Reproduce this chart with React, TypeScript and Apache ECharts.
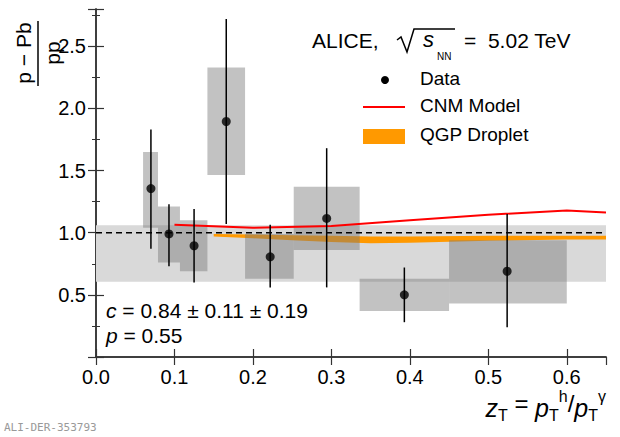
import { useEffect, useRef } from 'react';
import * as echarts from 'echarts';

const dataX = [0.07, 0.093, 0.125, 0.166, 0.222, 0.294, 0.393, 0.524];
const dataY = [1.355, 0.99, 0.895, 1.895, 0.806, 1.115, 0.5, 0.69];
const errLow = [0.87, 0.73, 0.6, 1.07, 0.56, 0.56, 0.28, 0.24];
const errHigh = [1.83, 1.23, 1.19, 2.72, 1.065, 1.68, 0.72, 1.15];
const boxX0 = [0.06, 0.079, 0.107, 0.142, 0.19, 0.252, 0.336, 0.45];
const boxX1 = [0.079, 0.107, 0.142, 0.19, 0.252, 0.336, 0.45, 0.6];
const boxY0 = [1.04, 0.76, 0.69, 1.465, 0.63, 0.86, 0.37, 0.43];
const boxY1 = [1.65, 1.21, 1.1, 2.33, 0.99, 1.37, 0.63, 0.94];
const normBand = [0, 0.65, 0.605, 1.06];

const cnmX = [0.1, 0.2, 0.3, 0.4, 0.5, 0.6, 0.65];
const cnmY = [1.065, 1.04, 1.055, 1.1, 1.145, 1.178, 1.162];

const qgpX = [0.15, 0.2, 0.25, 0.3, 0.35, 0.4, 0.5, 0.6, 0.65];
const qgpLow = [0.97, 0.955, 0.94, 0.925, 0.915, 0.92, 0.935, 0.945, 0.945];
const qgpHigh = [0.99, 0.985, 0.98, 0.975, 0.97, 0.97, 0.975, 0.975, 0.975];

const xTicks = [0, 0.1, 0.2, 0.3, 0.4, 0.5, 0.6];
const yTicks = [0.5, 1.0, 1.5, 2.0, 2.5];

const FONT = 'Liberation Sans, Arial, sans-serif';

const rectItem = (fill: string) => (params: any, api: any) => {
  const p0 = api.coord([api.value(0), api.value(3)]);
  const p1 = api.coord([api.value(1), api.value(2)]);
  return {
    type: 'rect',
    shape: { x: p0[0], y: p0[1], width: p1[0] - p0[0], height: p1[1] - p0[1] },
    style: { fill },
  };
};

export default function App() {
  const ref = useRef<HTMLDivElement>(null);

  useEffect(() => {
    document.body.style.margin = '0';
    if (!ref.current) return;
    const chart = echarts.init(ref.current, undefined, { renderer: 'svg' });

    const axisCommon = {
      axisLine: { show: true, lineStyle: { color: '#333', width: 1.5 } },
      axisTick: { show: true, inside: true, length: 8, lineStyle: { color: '#333', width: 1.2 } },
      splitLine: { show: false },
    };

    const option: echarts.EChartsOption = {
      animation: false,
      backgroundColor: '#fff',
      grid: { left: 96, right: 14, top: 9, bottom: 80 },
      xAxis: [
        {
          type: 'value', min: 0, max: 0.65, interval: 0.1, ...axisCommon,
          axisLabel: {
            fontFamily: FONT, fontSize: 20, color: '#000', margin: 10, showMaxLabel: false,
            formatter: (v: number) => (xTicks.some((t) => Math.abs(t - v) < 1e-6) ? v.toFixed(1) : ''),
          },
        },
        {
          type: 'value', position: 'top', min: 0, max: 0.65, interval: 0.1, ...axisCommon,
          axisLabel: { show: false },
        },
      ],
      yAxis: [
        {
          type: 'value', min: 0, max: 2.8, interval: 0.5, ...axisCommon,
          minorTick: { show: true, splitNumber: 2, length: 4, lineStyle: { color: '#333' } },
          axisLabel: {
            fontFamily: FONT, fontSize: 20, color: '#000', margin: 10, showMaxLabel: false,
            formatter: (v: number) => (yTicks.some((t) => Math.abs(t - v) < 1e-6) ? v.toFixed(1) : ''),
          },
        },
        {
          type: 'value', position: 'right', min: 0, max: 2.8, interval: 0.5, ...axisCommon,
          minorTick: { show: true, splitNumber: 2, length: 4, lineStyle: { color: '#333' } },
          axisLabel: { show: false },
        },
      ],
      series: [
        {
          type: 'custom', clip: true, renderItem: rectItem('#d9d9d9'),
          encode: { x: [0, 1], y: [2, 3] }, data: [normBand], z: 1,
        },
        {
          type: 'custom', clip: true, z: 2,
          encode: { x: 0, y: 1 }, data: [[qgpX[0], qgpHigh[0]]],
          renderItem: (params: any, api: any) => {
            const top = qgpX.map((x, i) => api.coord([x, qgpHigh[i]]));
            const bot = qgpX.map((x, i) => api.coord([x, qgpLow[i]])).reverse();
            return { type: 'polygon', shape: { points: top.concat(bot) }, style: { fill: '#ff9900' } };
          },
        },
        {
          type: 'custom', clip: true, renderItem: rectItem('rgba(120,120,120,0.45)'),
          encode: { x: [0, 1], y: [2, 3] },
          data: boxX0.map((x0, i) => [x0, boxX1[i], boxY0[i], boxY1[i]]), z: 3,
        },
        {
          type: 'line', data: cnmX.map((x, i) => [x, cnmY[i]]), symbol: 'none',
          lineStyle: { color: '#ff0000', width: 2 }, z: 4,
        },
        {
          type: 'line', data: [[0, 1], [0.65, 1]], symbol: 'none',
          lineStyle: { color: '#000', width: 1.5, type: [6, 4] }, z: 5,
        },
        {
          type: 'custom', z: 6,
          renderItem: (params: any, api: any) => {
            const a = api.coord([api.value(0), api.value(1)]);
            const b = api.coord([api.value(0), api.value(2)]);
            return {
              type: 'line', shape: { x1: a[0], y1: a[1], x2: b[0], y2: b[1] },
              style: { stroke: '#000', lineWidth: 1.5 },
            };
          },
          encode: { x: 0, y: [1, 2] },
          data: dataX.map((x, i) => [x, errLow[i], errHigh[i]]),
        },
        {
          type: 'scatter', data: dataX.map((x, i) => [x, dataY[i]]), symbolSize: 9,
          itemStyle: { color: '#000' }, z: 7,
        },
        {
          // rotated y-axis title (fraction)
          type: 'custom', clip: false, silent: true, z: 8,
          encode: { x: 0, y: 1 }, data: [[0, 0]],
          renderItem: () => ({
            type: 'group',
            children: [
              { type: 'text', x: 23, y: 53, rotation: Math.PI / 2, style: { text: 'p − Pb', font: `21px ${FONT}`, fill: '#000', align: 'center', verticalAlign: 'middle' } },
              { type: 'text', x: 52, y: 53, rotation: Math.PI / 2, style: { text: 'pp', font: `21px ${FONT}`, fill: '#000', align: 'center', verticalAlign: 'middle' } },
            ],
          }),
        },
      ],
      graphic: [
        { type: 'text', left: 312, top: 30, style: { text: 'ALICE,', font: `21px ${FONT}`, fill: '#000' } },
        { type: 'polyline', shape: { points: [[397, 40], [401, 37], [407, 52], [414, 29], [455, 29]] }, style: { stroke: '#000', lineWidth: 1.5, fill: 'none' } },
        { type: 'text', left: 423, top: 28, style: { text: 's', font: `italic 22px ${FONT}`, fill: '#000' } },
        { type: 'text', left: 437, top: 51, style: { text: 'NN', font: `10px ${FONT}`, fill: '#000' } },
        { type: 'text', left: 464, top: 30, style: { text: '=  5.02 TeV', font: `21px ${FONT}`, fill: '#000' } },
        { type: 'circle', shape: { cx: 385, cy: 80, r: 4 }, style: { fill: '#000' } },
        { type: 'text', left: 420, top: 69, style: { text: 'Data', font: `19px ${FONT}`, fill: '#000' } },
        { type: 'line', shape: { x1: 363, y1: 107, x2: 405, y2: 107 }, style: { stroke: '#ff0000', lineWidth: 2 } },
        { type: 'text', left: 420, top: 96, style: { text: 'CNM Model', font: `19px ${FONT}`, fill: '#000' } },
        { type: 'rect', shape: { x: 363, y: 129, width: 42, height: 15 }, style: { fill: '#ff9900' } },
        { type: 'text', left: 420, top: 125, style: { text: 'QGP Droplet', font: `19px ${FONT}`, fill: '#000' } },
        {
          type: 'text', left: 106, top: 300,
          style: {
            text: '{i|c} = 0.84 ± 0.11 ± 0.19', font: `21px ${FONT}`, fill: '#000',
            rich: { i: { fontStyle: 'italic', fontSize: 21, fontFamily: FONT } },
          },
        },
        {
          type: 'text', left: 106, top: 325,
          style: {
            text: '{i|p} = 0.55', font: `21px ${FONT}`, fill: '#000',
            rich: { i: { fontStyle: 'italic', fontSize: 21, fontFamily: FONT } },
          },
        },
        { type: 'line', shape: { x1: 38, y1: 21, x2: 38, y2: 86 }, style: { stroke: '#000', lineWidth: 1.5 } },
        {
          type: 'text', right: 14, top: 388,
          style: {
            text: '{i|z}{s|T} = {i|p}{s|T}{u|h}/{i|p}{s|T}{u|γ}', font: `24px ${FONT}`, fill: '#000',
            rich: {
              i: { fontStyle: 'italic', fontSize: 25, fontFamily: FONT, padding: [10, 0, 0, 0] },
              s: { fontSize: 16, fontFamily: FONT, padding: [24, 0, 0, 0] },
              u: { fontSize: 16, fontFamily: FONT, padding: [0, 0, 14, 0] },
            },
          },
        },
        { type: 'text', left: 4, top: 422, style: { text: 'ALI-DER-353793', font: '11px DejaVu Sans Mono, monospace', fill: '#999' } },
      ],
    };

    chart.setOption(option);
    return () => chart.dispose();
  }, []);

  return <div ref={ref} style={{ width: 620, height: 437 }} />;
}
